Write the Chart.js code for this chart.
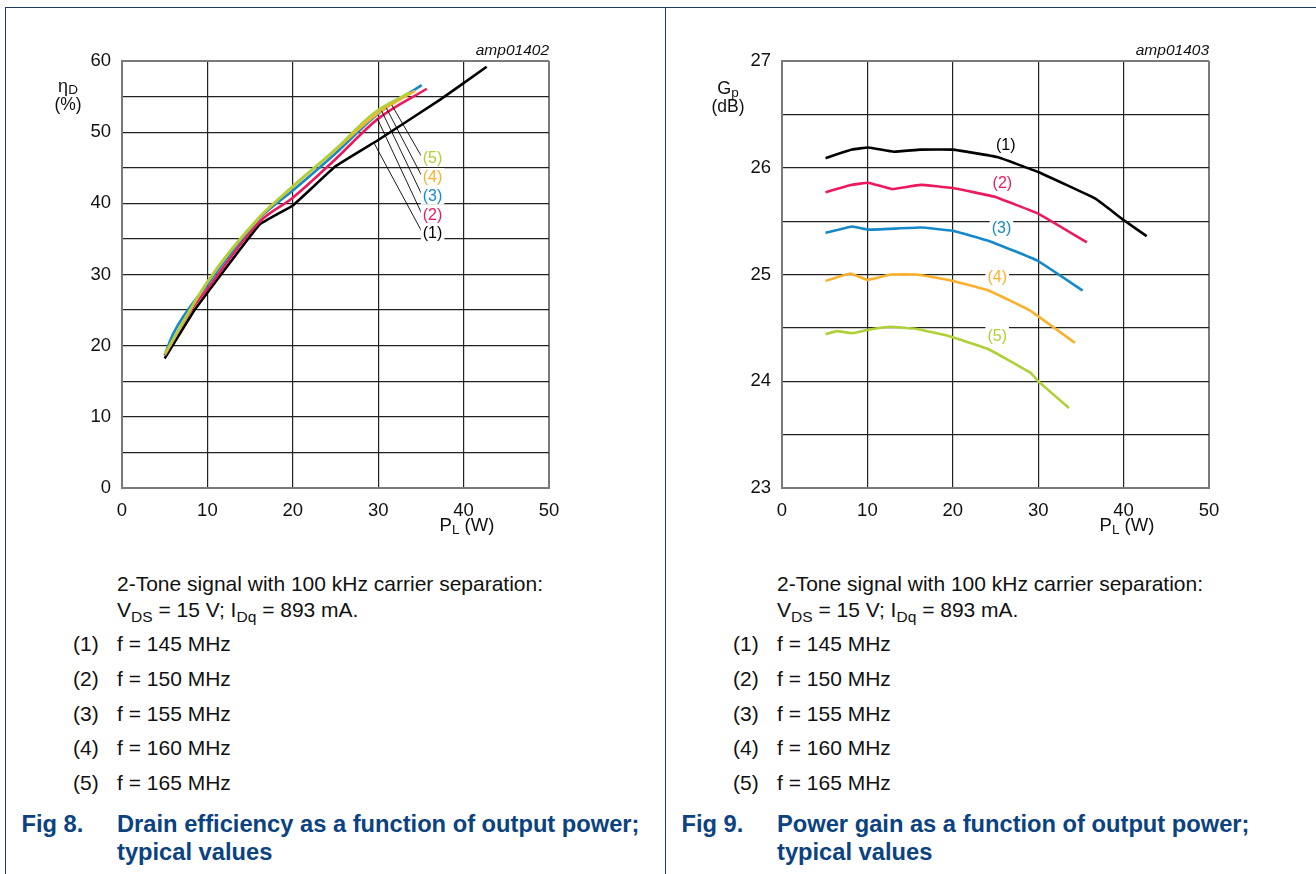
<!DOCTYPE html>
<html>
<head>
<meta charset="utf-8">
<script src="https://cdn.jsdelivr.net/npm/chart.js@4.4.0/dist/chart.umd.min.js"></script>
<style>
  body { margin: 0; background: #fff; font-family: "Liberation Sans", Arial, sans-serif; }
  #page { position: relative; width: 1316px; height: 874px; overflow: hidden; background: #fff; }
  canvas { position: absolute; top: 0; }
  .frame { position: absolute; background: #1d3b63; z-index: 2; }
  .txt { position: absolute; font-size: 21px; line-height: 21px; color: #111; white-space: nowrap; }
  .txt sub { font-size: 0.74em; vertical-align: -0.3em; line-height: 0; }
  .cap { position: absolute; font-size: 23.7px; line-height: 28px; font-weight: bold; color: #0b4280; white-space: nowrap; }
</style>
</head>
<body>
<div id="page">
  <canvas id="effChart" width="660" height="540" style="left:0"></canvas>
  <canvas id="gainChart" width="660" height="540" style="left:660px"></canvas>
  <div class="frame" style="left:5px; top:6.5px; width:1311px; height:1.4px"></div>
  <div class="frame" style="left:4.5px; top:6.5px; width:1.4px; height:868px"></div>
  <div class="frame" style="left:665px; top:6.5px; width:1.4px; height:868px"></div>
</div>
<script>
// drain efficiency (%) vs P_L (W), Fig 8
const eff145 = [[5, 18.2], [8.5, 25], [16.1, 37], [20, 39.7], [25, 45.2], [30, 48.9], [37.3, 54.6], [42.7, 59.2]];
const eff150 = [[5, 18.6], [8.1, 25], [10, 28], [16.1, 37.4], [20, 40.8], [24.9, 46.1], [30, 51.9], [35.7, 56.1]];
const eff155 = [[5, 18.7], [6, 21.7], [10, 28.6], [16.1, 37.9], [20, 41.8], [24.9, 46.9], [30, 52.6], [35.1, 56.6]];
const eff160 = [[5, 18.8], [10, 28.9], [16.1, 38], [20, 42.3], [24.9, 47.4], [30, 52.7], [34.3, 55.8]];
const eff165 = [[5, 18.8], [10, 29.0], [16.1, 38.1], [20, 42.4], [24.9, 47.5], [29.4, 52.6], [33.7, 55.6]];

// power gain (dB) vs P_L (W), Fig 9
const gain145 = [[5.1, 26.09], [8.2, 26.17], [10.1, 26.19], [13.1, 26.15], [16.2, 26.17], [20, 26.17], [25.2, 26.10], [30, 25.96], [36.7, 25.71], [40, 25.51], [42.7, 25.36]];
const gain150 = [[5.1, 25.77], [8.2, 25.84], [10.1, 25.86], [12.9, 25.80], [16.2, 25.84], [20, 25.81], [24.8, 25.73], [30, 25.57], [35.7, 25.30]];
const gain155 = [[5.1, 25.39], [8.2, 25.45], [10.1, 25.42], [16.2, 25.44], [20, 25.41], [24.4, 25.31], [29.9, 25.13], [35.2, 24.85]];
const gain160 = [[5.1, 24.94], [8.0, 25.01], [10, 24.95], [12.7, 25.0], [15.8, 25.0], [20, 24.94], [24.2, 24.85], [29.1, 24.66], [34.3, 24.36]];
const gain165 = [[5.1, 24.44], [6.4, 24.47], [8.2, 24.45], [10, 24.48], [12.7, 24.51], [15.8, 24.49], [19.7, 24.42], [24.2, 24.30], [29.1, 24.08], [30, 24.0], [33.6, 23.75]];

const xTicks = [0, 10, 20, 30, 40, 50];
const effTicks = [0, 10, 20, 30, 40, 50, 60];
const gainTicks = [23, 24, 25, 26, 27];

const curveTags = ['(1)', '(2)', '(3)', '(4)', '(5)'];
const freqLabels = ['f = 145 MHz', 'f = 150 MHz', 'f = 155 MHz', 'f = 160 MHz', 'f = 165 MHz'];
const noteLine1 = '2-Tone signal with 100 kHz carrier separation:';
const noteLine2 = 'V<sub>DS</sub> = 15 V; I<sub>Dq</sub> = 893 mA.';
const figNumbers = ['Fig 8.', 'Fig 9.'];
const figTitles = [['Drain efficiency as a function of output power;', 'typical values'],
                   ['Power gain as a function of output power;', 'typical values']];

const colors = ['#000000', '#ec1a5c', '#1589c9', '#fbb02d', '#add136'];
const FONT = '"Liberation Sans", Arial, sans-serif';

// where the (n) tags sit, in data units; leaders run from the tag to the curve
const effCallouts = [
  { at: [35.1, 35.9], to: [29.5, 48.5] },
  { at: [35.1, 38.4], to: [29.9, 51.9] },
  { at: [35.1, 41.1], to: [30.4, 53.0] },
  { at: [35.1, 43.7], to: [30.95, 53.4] },
  { at: [35.1, 46.4], to: [31.6, 53.8] }
];
const gainCallouts = [
  { at: [26.2, 26.22] },
  { at: [25.8, 25.86] },
  { at: [25.7, 25.44] },
  { at: [25.2, 24.98] },
  { at: [25.2, 24.43] }
];

function drawSub(ctx, main, sub, tail, cx, base, size, subSize, drop) {
  ctx.font = size + 'px ' + FONT;
  const w1 = ctx.measureText(main).width;
  const w3 = ctx.measureText(tail).width;
  ctx.font = subSize + 'px ' + FONT;
  const w2 = ctx.measureText(sub).width;
  let x = cx - (w1 + w2 + w3) / 2;
  ctx.textAlign = 'left';
  ctx.textBaseline = 'alphabetic';
  ctx.font = size + 'px ' + FONT;
  ctx.fillText(main, x, base);
  ctx.font = subSize + 'px ' + FONT;
  ctx.fillText(sub, x + w1, base + drop);
  ctx.font = size + 'px ' + FONT;
  ctx.fillText(tail, x + w1 + w2, base);
}

const notesPlugin = {
  id: 'notes',
  afterDraw(chart, args, o) {
    const { ctx, chartArea: a, scales: { x, y } } = chart;
    ctx.save();
    ctx.fillStyle = '#111';

    // figure id
    ctx.font = 'italic 15.5px ' + FONT;
    ctx.textAlign = 'right';
    ctx.textBaseline = 'alphabetic';
    ctx.fillText(o.tag, a.right, a.top - 6);

    // axis titles
    drawSub(ctx, o.yName, o.ySub, '', a.left - 54, a.top + o.yBase, 18, 13.5, o.yDrop);
    ctx.font = '17.5px ' + FONT;
    ctx.textAlign = 'center';
    ctx.fillText(o.yUnit, a.left - 54, a.top + o.yBase + 18);
    drawSub(ctx, 'P', 'L', ' (W)', a.left + 345, a.bottom + 43, 18.5, 13.5, 3);

    // curve tags
    ctx.font = '16px ' + FONT;
    ctx.textBaseline = 'middle';
    o.callouts.forEach((c, i) => {
      const px = x.getPixelForValue(c.at[0]);
      const py = y.getPixelForValue(c.at[1]);
      const w = ctx.measureText(curveTags[i]).width;
      if (c.to) {
        ctx.strokeStyle = '#000';
        ctx.lineWidth = 0.9;
        ctx.beginPath();
        ctx.moveTo(px, py - 1);
        ctx.lineTo(x.getPixelForValue(c.to[0]), y.getPixelForValue(c.to[1]));
        ctx.stroke();
      }
      const left = c.to ? px + 1 : px - w / 2;
      ctx.fillStyle = '#fff';
      ctx.fillRect(left - 2, py - 9, w + 4, 18);
      ctx.fillStyle = colors[i];
      ctx.textAlign = 'left';
      ctx.fillText(curveTags[i], left, py + 1);
    });
    ctx.restore();
  }
};

function edge(min, max) {
  return ctx => ctx.tick && (ctx.tick.value === min || ctx.tick.value === max);
}

function makeChart(id, series, yMin, yMax, yStep, yLabels, smooth, notes) {
  const isEdgeX = edge(0, 50);
  const isEdgeY = edge(yMin, yMax);
  return new Chart(document.getElementById(id), {
    type: 'line',
    data: {
      datasets: series.map((s, i) => ({
        data: s.map(p => ({ x: p[0], y: p[1] })),
        borderColor: colors[i],
        borderWidth: 2.6,
        pointRadius: 0,
        fill: false,
        order: 5 - i,
        tension: smooth && i > 0 ? 0.4 : 0.08,
        cubicInterpolationMode: smooth && i > 0 ? 'monotone' : 'default'
      }))
    },
    options: {
      responsive: false,
      animation: false,
      events: [],
      layout: { padding: { left: 82, right: 111, top: 61, bottom: 12 } },
      plugins: { legend: { display: false }, tooltip: { enabled: false }, notes: notes },
      scales: {
        x: {
          type: 'linear', min: 0, max: 50,
          afterFit: s => { s.height = 40; },
          afterBuildTicks: s => { s.ticks = xTicks.map(v => ({ value: v })); },
          ticks: { padding: 12, color: '#111', font: { size: 18.5, family: FONT }, maxRotation: 0 },
          grid: {
            drawTicks: false,
            color: c => isEdgeX(c) ? '#7a7a7a' : '#222',
            lineWidth: c => isEdgeX(c) ? 2 : 1.2
          },
          border: { color: '#7a7a7a', width: 2 }
        },
        y: {
          type: 'linear', min: yMin, max: yMax,
          afterFit: s => { s.width = 40; },
          ticks: {
            stepSize: yStep, padding: 11, color: '#111',
            font: { size: 18.5, family: FONT },
            callback: v => yLabels.includes(v) ? String(v) : ''
          },
          grid: {
            drawTicks: false,
            color: c => isEdgeY(c) ? '#7a7a7a' : '#222',
            lineWidth: c => isEdgeY(c) ? 2 : 1.2
          },
          border: { color: '#7a7a7a', width: 2 }
        }
      }
    },
    plugins: [notesPlugin]
  });
}

makeChart('effChart', [eff145, eff150, eff155, eff160, eff165], 0, 60, 5, effTicks, true,
  { tag: 'amp01402', yName: '\u03b7', ySub: 'D', yUnit: '(%)', yBase: 31, yDrop: 1.5, callouts: effCallouts });
makeChart('gainChart', [gain145, gain150, gain155, gain160, gain165], 23, 27, 0.5, gainTicks, false,
  { tag: 'amp01403', yName: 'G', ySub: 'p', yUnit: '(dB)', yBase: 33, yDrop: 3, callouts: gainCallouts });

// text under each chart
const page = document.getElementById('page');
function addText(cls, html, left, top) {
  const d = document.createElement('div');
  d.className = cls;
  d.innerHTML = html;
  d.style.left = left + 'px';
  d.style.top = top + 'px';
  page.appendChild(d);
}
[0, 660].forEach((off, k) => {
  addText('txt', noteLine1, off + 117, 573);
  addText('txt', noteLine2, off + 117, 599);
  curveTags.forEach((t, i) => {
    const top = 633 + i * 34.8;
    addText('txt', t, off + 73, top);
    addText('txt', freqLabels[i], off + 117, top);
  });
  addText('cap', figNumbers[k], off + 21.5, 809.6);
  addText('cap', figTitles[k][0] + '<br>' + figTitles[k][1], off + 117, 809.6);
});
</script>
</body>
</html>
